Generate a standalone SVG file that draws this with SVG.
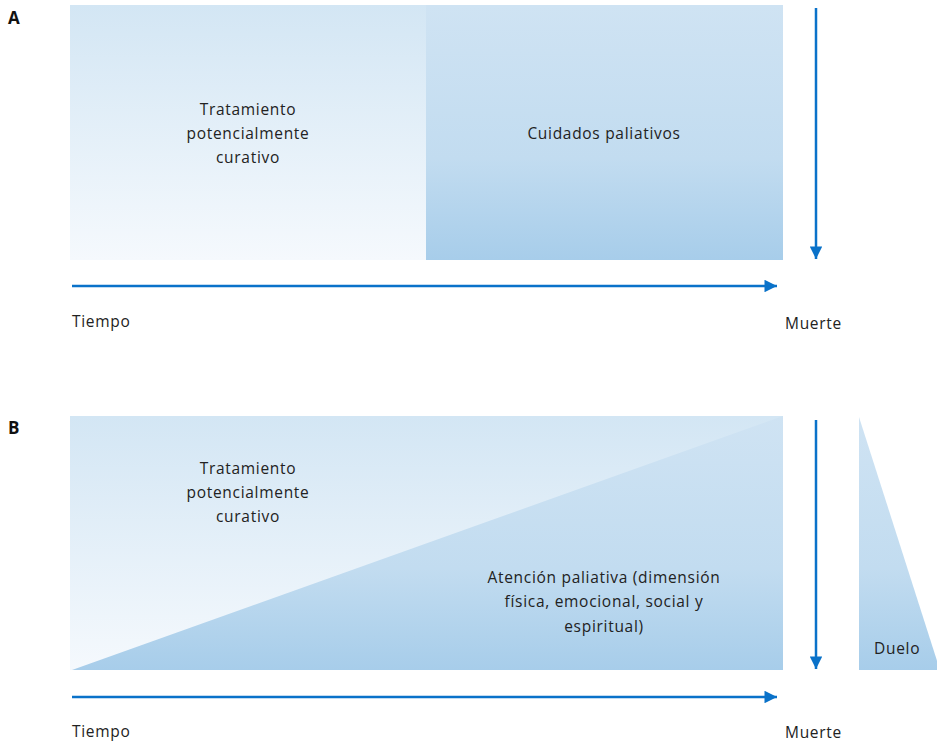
<svg xmlns="http://www.w3.org/2000/svg" width="937" height="742" viewBox="0 0 937 742">
<defs>
<linearGradient id="gLight" x1="0" y1="0" x2="0" y2="1">
<stop offset="0" stop-color="#d3e6f4"/>
<stop offset="1" stop-color="#f5f9fd"/>
</linearGradient>
<linearGradient id="gDark" x1="0" y1="0" x2="0" y2="1">
<stop offset="0" stop-color="#cfe3f3"/>
<stop offset="0.6" stop-color="#c2dcf0"/>
<stop offset="1" stop-color="#a7cdea"/>
</linearGradient>
<linearGradient id="gDarkB" gradientUnits="userSpaceOnUse" x1="0" y1="416" x2="0" y2="670">
<stop offset="0" stop-color="#cfe3f3"/>
<stop offset="0.6" stop-color="#c2dcf0"/>
<stop offset="1" stop-color="#a7cdea"/>
</linearGradient>
<marker id="ah" viewBox="0 0 10 10" refX="10" refY="5" markerWidth="6" markerHeight="5" markerUnits="strokeWidth" orient="auto">
<path d="M0,0 L10,5 L0,10 z" fill="#0a72c9"/>
</marker>
<style>
text{font-family:"Open Sans","Liberation Sans",sans-serif;font-size:15.5px;letter-spacing:0.7px;fill:#222}
.c{text-anchor:middle}
.lbl{font-weight:bold;font-size:17px;letter-spacing:0;fill:#111}
.ar{stroke:#0a72c9;stroke-width:2.5;fill:none;marker-end:url(#ah)}
</style>
</defs>
<text class="lbl" x="8" y="24">A</text>
<text class="lbl" x="8" y="434">B</text>
<g id="a-curativo">
<rect x="70" y="5" width="356" height="255" fill="url(#gLight)"/>
<text class="c" x="248" y="115">Tratamiento</text>
<text class="c" x="248" y="139">potencialmente</text>
<text class="c" x="248" y="163">curativo</text>
</g>
<g id="a-paliativos">
<rect x="426" y="5" width="357" height="255" fill="url(#gDark)"/>
<text class="c" x="604" y="139">Cuidados paliativos</text>
</g>
<g id="b-curativo">
<rect x="70" y="416" width="713" height="254" fill="url(#gLight)"/>
<text class="c" x="248" y="474">Tratamiento</text>
<text class="c" x="248" y="498">potencialmente</text>
<text class="c" x="248" y="522">curativo</text>
</g>
<g id="b-paliativa">
<polygon points="72,670 783,416 783,670" fill="url(#gDarkB)"/>
<text class="c" x="604" y="583">Atención paliativa (dimensión</text>
<text class="c" x="604" y="607">física, emocional, social y</text>
<text class="c" x="604" y="632">espiritual)</text>
</g>
<g id="b-duelo">
<polygon points="859,417 859,670 940,670" fill="url(#gDarkB)"/>
<text x="874" y="654">Duelo</text>
</g>
<g id="connectors">
<line class="ar" x1="816" y1="8" x2="816" y2="259"/>
<line class="ar" x1="72" y1="286" x2="777" y2="286"/>
<line class="ar" x1="816" y1="420" x2="816" y2="669"/>
<line class="ar" x1="72" y1="697" x2="777" y2="697"/>
</g>
<g id="labels">
<text x="72" y="327">Tiempo</text>
<text x="785" y="329">Muerte</text>
<text x="72" y="737">Tiempo</text>
<text x="785" y="738">Muerte</text>
</g>
</svg>
